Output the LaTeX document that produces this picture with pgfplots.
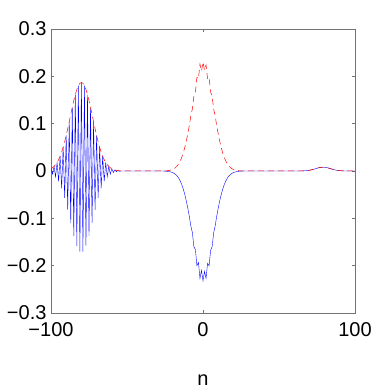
\documentclass[border=0pt]{standalone}
\usepackage{fontspec}
\setmainfont{Liberation Sans}
\usepackage{pgfplots}
\pgfplotsset{compat=1.18}

\begin{document}
\begin{tikzpicture}
\begin{axis}[
  scale only axis,
  width=304pt, height=284pt,
  xmin=-100, xmax=100, ymin=-0.3, ymax=0.3,
  xtick={-100,0,100}, xticklabels={−100,0,100},
  ytick={-0.3,-0.2,-0.1,0,0.1,0.2,0.3},
  yticklabels={−0.3,−0.2,−0.1,0,0.1,0.2,0.3},
  tick align=inside, major tick length=3pt,
  axis line style={black!55, line width=0.8pt},
  every tick/.style={black!55, line width=0.6pt},
  tick label style={font=\fontsize{20}{22}\selectfont},
  xticklabel style={yshift=-6pt},
  yticklabel style={xshift=-1pt},
  xlabel={n}, label style={font=\fontsize{20}{22}\selectfont},
  xlabel style={yshift=-31pt},
]
\addplot[blue, line width=0.4pt] coordinates {
(-100,0.0048) (-99,-0.0063) (-98,0.0097) (-97,-0.0123) (-96,0.0180) (-95,-0.0220)
(-94,0.0312) (-93,-0.0368) (-92,0.0502) (-91,-0.0570) (-90,0.0750) (-89,-0.0821)
(-88,0.1043) (-87,-0.1100) (-86,0.1346) (-85,-0.1370) (-84,0.1616) (-83,-0.1584)
(-82,0.1803) (-81,-0.1705) (-80,0.1870) (-79,-0.1705) (-78,0.1803) (-77,-0.1584)
(-76,0.1616) (-75,-0.1370) (-74,0.1346) (-73,-0.1100) (-72,0.1043) (-71,-0.0821)
(-70,0.0750) (-69,-0.0570) (-68,0.0502) (-67,-0.0368) (-66,0.0312) (-65,-0.0220)
(-64,0.0180) (-63,-0.0123) (-62,0.0097) (-61,-0.0063) (-60,0.0048) (-59,-0.0030)
(-58,0.0023) (-57,-0.0014) (-56,0.0010) (-55,-0.0006) (-54,0) (-27,0)
(-26,-0.0001) (-25,-0.0003) (-24,-0.0005) (-23,-0.0009) (-22,-0.0014) (-21,-0.0022)
(-20,-0.0033) (-19,-0.0050) (-18,-0.0074) (-17,-0.0107) (-16,-0.0152) (-15,-0.0210)
(-14,-0.0285) (-13,-0.0380) (-12,-0.0495) (-11,-0.0630) (-10,-0.0786) (-9,-0.0959)
(-8,-0.1160) (-7,-0.1300) (-6,-0.1600) (-5,-0.1660) (-4,-0.2000) (-3,-0.1930)
(-2,-0.2270) (-1,-0.2100) (0,-0.2320) (1,-0.2120) (2,-0.2270) (3,-0.1950)
(4,-0.2000) (5,-0.1680) (6,-0.1600) (7,-0.1310) (8,-0.1160) (9,-0.0959)
(10,-0.0786) (11,-0.0630) (12,-0.0495) (13,-0.0380) (14,-0.0285) (15,-0.0210)
(16,-0.0152) (17,-0.0107) (18,-0.0074) (19,-0.0050) (20,-0.0033) (21,-0.0022)
(22,-0.0014) (23,-0.0009) (24,-0.0005) (25,-0.0003) (26,-0.0001) (27,0) (65,0)
(66,0.0003) (67,0.0005) (68,0.0007) (69,0.0011) (70,0.0016) (71,0.0022)
(72,0.0030) (73,0.0039) (74,0.0048) (75,0.0058) (76,0.0067) (77,0.0074)
(78,0.0078) (79,0.0080) (80,0.0078) (81,0.0074) (82,0.0067) (83,0.0058)
(84,0.0048) (85,0.0039) (86,0.0030) (87,0.0022) (88,0.0016) (89,0.0011)
(90,0.0007) (91,0.0005) (92,0.0003) (93,0) (100,0)
};
\addplot[red, line width=0.5pt, dash pattern=on 6pt off 4pt] coordinates {
(-100,0.0048) (-99,0.0069) (-98,0.0097) (-97,0.0134) (-96,0.0180) (-95,0.0239)
(-94,0.0312) (-93,0.0400) (-92,0.0502) (-91,0.0620) (-90,0.0750) (-89,0.0892)
(-88,0.1043) (-87,0.1196) (-86,0.1346) (-85,0.1489) (-84,0.1616) (-83,0.1722)
(-82,0.1803) (-81,0.1853) (-80,0.1870) (-79,0.1853) (-78,0.1803) (-77,0.1722)
(-76,0.1616) (-75,0.1489) (-74,0.1346) (-73,0.1196) (-72,0.1043) (-71,0.0892)
(-70,0.0750) (-69,0.0620) (-68,0.0502) (-67,0.0400) (-66,0.0312) (-65,0.0239)
(-64,0.0180) (-63,0.0134) (-62,0.0097) (-61,0.0069) (-60,0.0048) (-59,0.0033)
(-58,0.0023) (-57,0.0015) (-56,0.0010) (-55,0.0006) (-54,0) (-27,0)
(-26,0.0001) (-25,0.0003) (-24,0.0005) (-23,0.0009) (-22,0.0014) (-21,0.0022)
(-20,0.0033) (-19,0.0050) (-18,0.0074) (-17,0.0107) (-16,0.0152) (-15,0.0210)
(-14,0.0285) (-13,0.0380) (-12,0.0495) (-11,0.0630) (-10,0.0786) (-9,0.0959)
(-8,0.1170) (-7,0.1310) (-6,0.1580) (-5,0.1670) (-4,0.1980) (-3,0.1950)
(-2,0.2260) (-1,0.2110) (0,0.2300) (1,0.2130) (2,0.2240) (3,0.1950)
(4,0.1980) (5,0.1670) (6,0.1580) (7,0.1310) (8,0.1170) (9,0.0959)
(10,0.0786) (11,0.0630) (12,0.0495) (13,0.0380) (14,0.0285) (15,0.0210)
(16,0.0152) (17,0.0107) (18,0.0074) (19,0.0050) (20,0.0033) (21,0.0022)
(22,0.0014) (23,0.0009) (24,0.0005) (25,0.0003) (26,0.0001) (27,0) (65,0)
(66,0.0003) (67,0.0005) (68,0.0007) (69,0.0011) (70,0.0016) (71,0.0022)
(72,0.0030) (73,0.0039) (74,0.0048) (75,0.0058) (76,0.0067) (77,0.0074)
(78,0.0078) (79,0.0080) (80,0.0078) (81,0.0074) (82,0.0067) (83,0.0058)
(84,0.0048) (85,0.0039) (86,0.0030) (87,0.0022) (88,0.0016) (89,0.0011)
(90,0.0007) (91,0.0005) (92,0.0003) (93,0) (100,0)
};
\end{axis}
\path (current axis.south west) +(-51pt,-79pt) (current axis.north east) +(36pt,29pt);
\end{tikzpicture}
\end{document}
